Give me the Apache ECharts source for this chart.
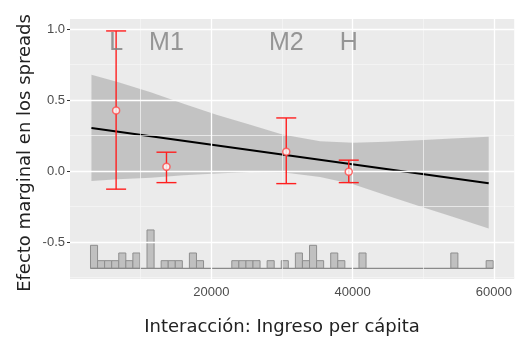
<!DOCTYPE html>
<html>
<head>
<meta charset="utf-8">
<script src="https://cdn.jsdelivr.net/npm/echarts@6/dist/echarts.min.js"></script>
<style>html,body{margin:0;padding:0;background:#fff;}#c{width:515px;height:337px;}</style>
</head>
<body>
<div id="c"></div>
<script>
// ---- data ----
const xMajor = [20000, 40000, 60000];
const xMinor = [10000, 30000, 50000];
const yMajor = [-0.5, 0, 0.5, 1.0];
const yMinor = [-0.75, -0.25, 0.25, 0.75];

const groups = ['L', 'M1', 'M2', 'H'];
const groupX = [6527, 13655, 30608, 39455];
const est = [0.427, 0.031, 0.136, -0.004];
const ciLow = [-0.127, -0.081, -0.088, -0.081];
const ciHigh = [0.986, 0.133, 0.374, 0.077];

const fitX = [3033, 59259];
const fitY = [0.304, -0.086];

const bandX = [3033, 6750, 11418, 16072, 20727, 25395, 30049, 35401, 40069, 44723, 49377, 54045, 59259];
const bandUpper = [0.678, 0.626, 0.554, 0.474, 0.397, 0.327, 0.257, 0.210, 0.199, 0.206, 0.217, 0.229, 0.241];
const bandLower = [-0.070, -0.058, -0.046, -0.030, -0.016, -0.006, -0.008, -0.042, -0.093, -0.170, -0.245, -0.320, -0.404];

const binStart = [2900, 3900, 4900, 5900, 6900, 7900, 8900, 10900, 12900, 13900, 14900, 16900, 17900,
  22900, 23900, 24900, 25900, 27900, 29900, 31900, 32900, 33900, 34900, 36900, 37900, 40900, 53900, 58900];
const binCount = [3, 1, 1, 1, 2, 1, 2, 5, 1, 1, 1, 2, 1, 1, 1, 1, 1, 1, 1, 2, 1, 3, 1, 2, 1, 2, 2, 1];
const binWidth = 1000;
const histBase = -0.684;
const countUnit = 0.054;

// ---- chart ----
const chart = echarts.init(document.getElementById('c'), null, {renderer: 'canvas'});

const gridLines = [];
xMinor.forEach(v => gridLines.push({xAxis: v, lineStyle: {color: '#f7f7f7', width: 0.7, type: 'solid'}}));
yMinor.forEach(v => gridLines.push({yAxis: v, lineStyle: {color: '#f7f7f7', width: 0.7, type: 'solid'}}));
xMajor.forEach(v => gridLines.push({xAxis: v, lineStyle: {color: '#ffffff', width: 1.3, type: 'solid'}}));
yMajor.forEach(v => gridLines.push({yAxis: v, lineStyle: {color: '#ffffff', width: 1.3, type: 'solid'}}));

const tickFont = 'Liberation Sans';
const titleFont = '18px "DejaVu Sans"';

chart.setOption({
  animation: false,
  backgroundColor: '#ffffff',
  grid: {left: 70, top: 19, width: 450, height: 260, show: true, backgroundColor: '#ebebeb', borderWidth: 0},
  xAxis: {
    type: 'value', min: 0, max: 62871,
    axisLine: {show: false},
    axisTick: {show: true, customValues: xMajor, length: 3, lineStyle: {color: '#333333', width: 1}},
    axisLabel: {customValues: xMajor, color: '#4d4d4d', fontSize: 13, margin: 7, fontFamily: tickFont,
      formatter: v => String(v)},
    splitLine: {show: false}
  },
  yAxis: {
    type: 'value', min: -0.759, max: 1.070,
    axisLine: {show: false},
    axisTick: {show: true, customValues: yMajor, length: 3, lineStyle: {color: '#333333', width: 1}},
    axisLabel: {customValues: yMajor, color: '#4d4d4d', fontSize: 13, margin: 5, fontFamily: tickFont,
      formatter: v => Number(v).toFixed(1)},
    splitLine: {show: false}
  },
  graphic: [
    {type: 'text', x: 282, y: 327, z: 10,
      style: {text: 'Interacción: Ingreso per cápita', font: titleFont, fill: '#222222', align: 'center', verticalAlign: 'middle'}},
    {type: 'text', x: 25, y: 153, rotation: Math.PI / 2, z: 10,
      style: {text: 'Efecto marginal en los spreads', font: titleFont, fill: '#222222', align: 'center', verticalAlign: 'middle'}}
  ],
  series: [
    {
      type: 'line', z: 1, data: [], symbol: 'none',
      markLine: {silent: true, symbol: ['none', 'none'], label: {show: false}, emphasis: {disabled: true}, data: gridLines}
    },
    {
      type: 'custom', z: 2, silent: true,
      data: bandX.map((x, i) => [x, bandLower[i], bandUpper[i]]),
      renderItem: function (params, api) {
        if (params.dataIndex !== 0) return null;
        const pts = [];
        for (let i = 0; i < bandX.length; i++) pts.push(api.coord([bandX[i], bandUpper[i]]));
        for (let i = bandX.length - 1; i >= 0; i--) pts.push(api.coord([bandX[i], bandLower[i]]));
        return {type: 'polygon', shape: {points: pts}, style: {fill: 'rgba(140,140,140,0.42)'}};
      }
    },
    {
      type: 'line', z: 3, symbol: 'none', silent: true,
      data: [[binStart[0], histBase], [binStart[binStart.length - 1] + binWidth, histBase]],
      lineStyle: {color: '#8a8a8a', width: 1.2}
    },
    {
      type: 'custom', z: 3, silent: true,
      data: binStart.map((s, i) => [s, binCount[i]]),
      renderItem: function (params, api) {
        const x0 = api.value(0), c = api.value(1);
        const p0 = api.coord([x0, histBase]);
        const p1 = api.coord([x0 + binWidth, histBase + c * countUnit]);
        return {type: 'rect', shape: {x: p0[0], y: p1[1], width: p1[0] - p0[0], height: p0[1] - p1[1]},
          style: {fill: '#c0c0c0', stroke: '#8e8e8e', lineWidth: 1}};
      }
    },
    {
      type: 'line', z: 4, symbol: 'none', silent: true,
      data: fitX.map((x, i) => [x, fitY[i]]),
      lineStyle: {color: '#000000', width: 2}
    },
    {
      type: 'custom', z: 5, silent: true,
      data: groupX.map((x, i) => [x, ciLow[i], ciHigh[i]]),
      renderItem: function (params, api) {
        const x = api.value(0);
        const lo = api.coord([x, api.value(1)]);
        const hi = api.coord([x, api.value(2)]);
        const w = 10;
        const st = {stroke: '#ff1f1f', lineWidth: 1.4};
        return {type: 'group', children: [
          {type: 'line', shape: {x1: lo[0], y1: lo[1], x2: hi[0], y2: hi[1]}, style: st},
          {type: 'line', shape: {x1: hi[0] - w, y1: hi[1], x2: hi[0] + w, y2: hi[1]}, style: st},
          {type: 'line', shape: {x1: lo[0] - w, y1: lo[1], x2: lo[0] + w, y2: lo[1]}, style: st}
        ]};
      }
    },
    {
      type: 'scatter', z: 6, silent: true,
      data: groupX.map((x, i) => [x, est[i]]),
      symbol: 'circle', symbolSize: 7,
      itemStyle: {color: '#ffffff', borderColor: '#ff4a4a', borderWidth: 1.5}
    },
    {
      type: 'scatter', z: 7, silent: true,
      data: groups.map((g, i) => ({value: [groupX[i], 0.90], name: g})),
      symbolSize: 1, itemStyle: {color: 'rgba(0,0,0,0)'},
      label: {show: true, position: 'inside', formatter: p => p.name, color: '#808080',
        fontSize: 25, fontFamily: '"Liberation Sans", sans-serif'}
    }
  ]
});
</script>
</body>
</html>
